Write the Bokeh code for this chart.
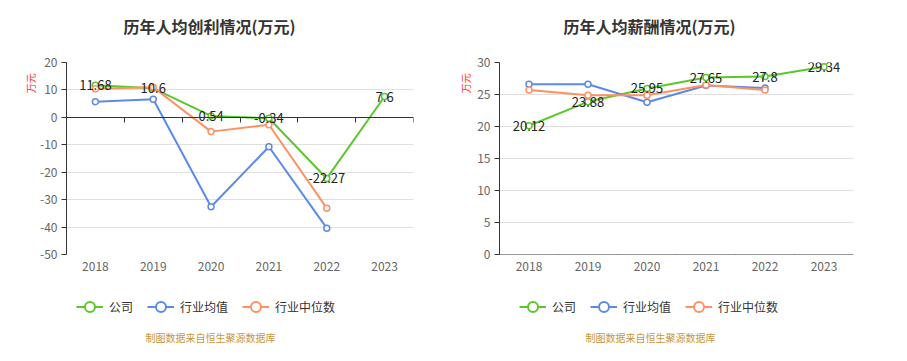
from bokeh.plotting import figure
from bokeh.models import (ColumnDataSource, FixedTicker, LinearAxis, Range1d, Label,
                          Legend, LegendItem)
from bokeh.layouts import row, column
from bokeh.core.properties import value
from bokeh.embed import file_html
from bokeh.resources import INLINE

years = ["2018", "2019", "2020", "2021", "2022", "2023"]

profit_company = [11.68, 10.6, 0.54, -0.34, -22.27, 7.6]
profit_mean = [5.7, 6.6, -32.6, -10.7, -40.4]
profit_median = [10.4, 11.0, -5.2, -2.7, -33.1]

salary_company = [20.12, 23.88, 25.95, 27.65, 27.8, 29.34]
salary_mean = [26.6, 26.6, 23.8, 26.4, 26.0]
salary_median = [25.7, 24.9, 24.9, 26.5, 25.7]

profit_ticks = [-50, -40, -30, -20, -10, 0, 10, 20]
salary_ticks = [0, 5, 10, 15, 20, 25, 30]

series_names = ["公司", "行业均值", "行业中位数"]
colors = ["#5cc72d", "#5b8ae6", "#ff9064"]
source_text = "制图数据来自恒生聚源数据库"
unit_text = "万元"

FONT = "Noto Sans CJK SC"


def blank(width, height):
    f = figure(width=width, height=height, output_backend="svg", toolbar_location=None,
               x_range=Range1d(0, width), y_range=Range1d(0, height), min_border=0,
               x_axis_location=None, y_axis_location=None)
    f.outline_line_color = None
    f.xgrid.grid_line_color = None
    f.ygrid.grid_line_color = None
    f.background_fill_color = "white"
    f.border_fill_color = "white"
    return f


def make_chart(company, mean, median, ticks, width, left, right):
    n = len(years)
    xs = list(range(1, n + 1))
    p = figure(width=width, height=240, output_backend="svg", toolbar_location=None,
               x_range=Range1d(0.5, n + 0.5), y_range=Range1d(ticks[0], ticks[-1]),
               min_border_left=left, min_border_right=right,
               min_border_top=22, min_border_bottom=26)
    p.outline_line_color = None
    p.background_fill_color = "white"
    p.border_fill_color = "white"
    p.xgrid.grid_line_color = None
    p.ygrid.ticker = FixedTicker(ticks=ticks)
    p.ygrid.grid_line_color = "#e0e0e0"

    ya = p.yaxis[0]
    ya.ticker = FixedTicker(ticks=ticks)
    ya.major_label_overrides = {t: str(t) for t in ticks}
    ya.axis_line_color = "#333333"
    ya.major_tick_line_color = "#333333"
    ya.major_tick_out = 5
    ya.major_tick_in = 0
    ya.minor_tick_line_color = None
    ya.major_label_text_color = "#666666"
    ya.major_label_text_font_size = "12px"
    ya.major_label_text_font = FONT
    ya.major_label_standoff = 4

    xa = p.xaxis[0]
    xa.ticker = FixedTicker(ticks=xs)
    xa.major_label_overrides = {i + 1: y for i, y in enumerate(years)}
    xa.axis_line_color = None
    xa.major_tick_line_color = None
    xa.major_tick_out = 0
    xa.major_tick_in = 0
    xa.minor_tick_line_color = None
    xa.major_label_text_color = "#666666"
    xa.major_label_text_font_size = "12px"
    xa.major_label_text_font = FONT
    xa.major_label_standoff = 7

    bticks = [i + 0.5 for i in range(n + 1)]
    za = LinearAxis(fixed_location=0, ticker=FixedTicker(ticks=bticks))
    za.axis_line_color = "#333333"
    za.major_tick_line_color = "#333333"
    za.major_tick_in = 5
    za.major_tick_out = 0
    za.minor_tick_line_color = None
    za.major_label_text_font_size = "0px"
    za.major_label_text_alpha = 0
    za.major_label_standoff = 0
    p.add_layout(za, "above")

    for vals, col in zip([company, mean, median], colors):
        src = ColumnDataSource(dict(x=xs[:len(vals)], y=vals))
        p.line("x", "y", source=src, line_color=col, line_width=2)
        p.scatter("x", "y", source=src, size=6, marker="circle", fill_color="white",
                  line_color=col, line_width=1.5)

    lab_src = ColumnDataSource(dict(x=xs, y=company, t=[f"{v:g}" for v in company]))
    p.text("x", "y", text="t", source=lab_src, text_align="center", text_baseline="middle",
           text_font=value(FONT), text_font_size="13px", text_color="#222222")
    return p


def make_panel(title, company, mean, median, ticks, total_w, unit_w, unit_x,
               chart_left, chart_right, title_x, legend_x, src_x):
    top = blank(total_w, 40)
    top.add_layout(Label(x=title_x, y=15, x_units="screen", y_units="screen", text=title,
                         text_align="center", text_baseline="middle", text_font=FONT,
                         text_font_size="16px", text_font_style="bold",
                         text_color="#333333"))

    unit = blank(unit_w, 240)
    unit.text(x=[unit_x], y=[214], text=[unit_text], angle=1.5708, text_align="center",
              text_baseline="middle", text_font=value(FONT), text_font_size="10px",
              text_color="#ff3030")

    chart = make_chart(company, mean, median, ticks, total_w - unit_w, chart_left, chart_right)

    bottom = blank(total_w, 81)
    items = []
    for name, col in zip(series_names, colors):
        src = ColumnDataSource(dict(x=[float("nan")], y=[float("nan")]))
        lr = bottom.line("x", "y", source=src, line_color=col, line_width=2)
        sr = bottom.scatter("x", "y", source=src, size=10, marker="circle",
                            fill_color="white", line_color=col, line_width=2)
        items.append(LegendItem(label=name, renderers=[lr, sr]))
    legend = Legend(items=items, orientation="horizontal", location=(legend_x, 42),
                    glyph_width=27, glyph_height=25, label_standoff=6, spacing=14,
                    padding=0, margin=0, border_line_color=None, background_fill_alpha=0,
                    label_text_font=FONT, label_text_font_size="12px",
                    label_text_color="#333333")
    bottom.add_layout(legend)
    bottom.add_layout(Label(x=src_x, y=24, x_units="screen", y_units="screen",
                            text=source_text, text_align="center", text_baseline="middle",
                            text_font=FONT, text_font_size="10px", text_color="#c8963c"))
    return column(top, row(unit, chart), bottom)


left = make_panel("历年人均创利情况(万元)", profit_company, profit_mean, profit_median,
                  profit_ticks, 450, 37, 30, 27, 37, 209, 76, 210)
right = make_panel("历年人均薪酬情况(万元)", salary_company, salary_mean, salary_median,
                   salary_ticks, 457, 22, 15, 27, 54, 199, 69, 200)

layout = row(left, right)
open("out.html", "w").write(file_html(layout, INLINE))
